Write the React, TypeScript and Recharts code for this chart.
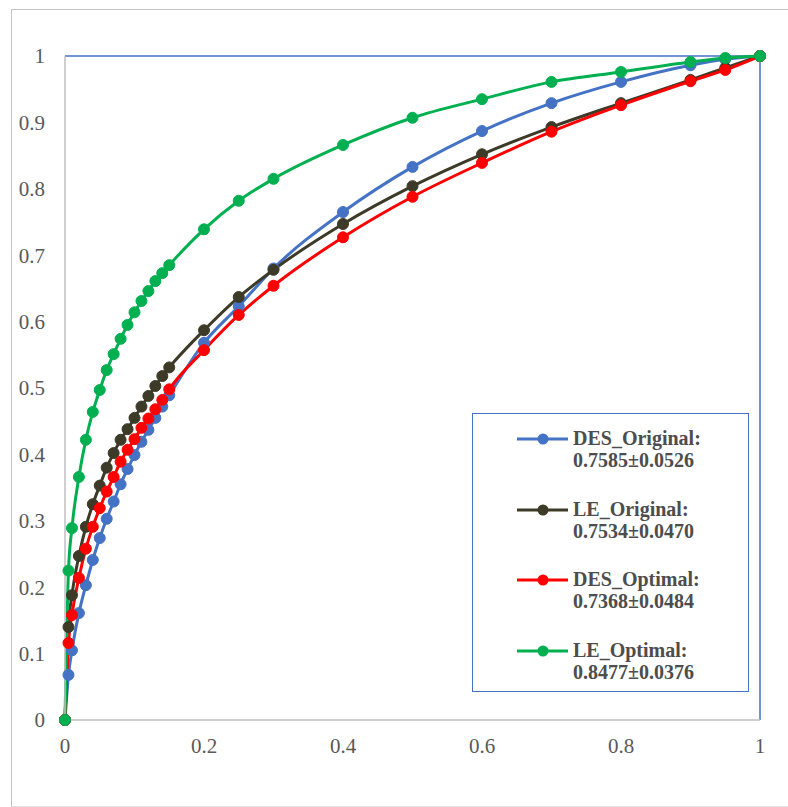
import React from 'react';
import {
  LineChart, Line, XAxis, YAxis, ReferenceLine,
} from 'recharts';

const fpr = [0, 0.005, 0.01, 0.02, 0.03, 0.04, 0.05, 0.06, 0.07, 0.08, 0.09, 0.1, 0.11, 0.12, 0.13, 0.14, 0.15, 0.2, 0.25, 0.3, 0.4, 0.5, 0.6, 0.7, 0.8, 0.9, 0.95, 1];

const desOriginal = [0, 0.068, 0.105, 0.161, 0.203, 0.241, 0.274, 0.303, 0.329, 0.355, 0.378, 0.399, 0.419, 0.437, 0.455, 0.472, 0.489, 0.568, 0.623, 0.68, 0.765, 0.833, 0.887, 0.929, 0.961, 0.986, 0.995, 1];
const leOriginal = [0, 0.14, 0.188, 0.247, 0.291, 0.325, 0.353, 0.38, 0.402, 0.422, 0.438, 0.455, 0.472, 0.488, 0.503, 0.518, 0.531, 0.587, 0.637, 0.678, 0.747, 0.804, 0.852, 0.893, 0.929, 0.964, 0.982, 1];
const desOptimal = [0, 0.116, 0.158, 0.214, 0.258, 0.291, 0.319, 0.344, 0.366, 0.389, 0.407, 0.423, 0.44, 0.454, 0.468, 0.482, 0.498, 0.557, 0.61, 0.654, 0.727, 0.788, 0.839, 0.886, 0.926, 0.962, 0.979, 1];
const leOptimal = [0, 0.225, 0.289, 0.366, 0.422, 0.464, 0.497, 0.527, 0.551, 0.574, 0.595, 0.614, 0.631, 0.646, 0.661, 0.673, 0.685, 0.739, 0.782, 0.815, 0.866, 0.907, 0.935, 0.961, 0.976, 0.991, 0.997, 1];

const ticks = [0, 0.1, 0.2, 0.3, 0.4, 0.5, 0.6, 0.7, 0.8, 0.9, 1];
const xTicks = [0, 0.2, 0.4, 0.6, 0.8, 1];

const series = [
  { key: 'desOriginal', name: 'DES_Original:', auc: '0.7585±0.0526', color: '#4472C4' },
  { key: 'leOriginal', name: 'LE_Original:', auc: '0.7534±0.0470', color: '#3D3A28' },
  { key: 'desOptimal', name: 'DES_Optimal:', auc: '0.7368±0.0484', color: '#FF0000' },
  { key: 'leOptimal', name: 'LE_Optimal:', auc: '0.8477±0.0376', color: '#00B050' },
];

const data = fpr.map((x, i) => ({
  x,
  desOriginal: desOriginal[i],
  leOriginal: leOriginal[i],
  desOptimal: desOptimal[i],
  leOptimal: leOptimal[i],
}));

const font = '"Liberation Serif", "Times New Roman", serif';
const tickStyle = { fill: '#595959', fontSize: 21, fontFamily: font };

// legend drawn as a plain box over the plot, like the Excel text frame
const LegendBox = () => (
  <div
    style={{
      position: 'absolute',
      left: 472,
      top: 413,
      width: 277,
      height: 279,
      border: '1.5px solid #4472C4',
      boxSizing: 'border-box',
      background: '#fff',
      fontFamily: font,
      fontWeight: 'bold',
      fontSize: 20,
      color: '#4d4d4d',
      paddingTop: 13,
    }}
  >
    {series.map((s) => (
      <div key={s.key} style={{ display: 'flex', height: 70.5 }}>
        <svg width={100} height={24} style={{ flexShrink: 0 }}>
          <line x1={44} y1={12} x2={95} y2={12} stroke={s.color} strokeWidth={3} />
          <circle cx={70} cy={12} r={5.5} fill={s.color} />
        </svg>
        <div style={{ lineHeight: '22px' }}>
          <div>{s.name}</div>
          <div>{s.auc}</div>
        </div>
      </div>
    ))}
  </div>
);

export default function App() {
  return (
    <div style={{ position: 'absolute', left: 0, top: 0, width: 788, height: 807, background: '#fff', overflow: 'hidden' }}>
      <div
        style={{
          position: 'absolute',
          left: 11,
          top: 9,
          width: 790,
          height: 796,
          borderLeft: '1.5px solid #c4c4c4',
          borderTop: '1.5px solid #c4c4c4',
          borderBottom: '1px solid #e2e2e2',
        }}
      />
      <LineChart
        width={788}
        height={807}
        data={data}
        margin={{ top: 56, right: 28, left: 0, bottom: 0 }}
        style={{ position: 'absolute', left: 0, top: 0 }}
      >
        <XAxis
          dataKey="x"
          type="number"
          domain={[0, 1]}
          ticks={xTicks}
          height={87}
          tickLine={false}
          tickMargin={12}
          stroke="#bfbfbf"
          strokeWidth={1.5}
          tick={tickStyle}
        />
        <YAxis
          type="number"
          domain={[0, 1]}
          ticks={ticks}
          width={65}
          tickLine={false}
          tickMargin={14}
          stroke="#bfbfbf"
          strokeWidth={1.5}
          tick={tickStyle}
        />
        <ReferenceLine y={1} stroke="#4472C4" strokeWidth={1.5} />
        <ReferenceLine x={1} stroke="#4472C4" strokeWidth={1.5} />
        {series.map((s) => (
          <Line
            key={s.key}
            type="monotone"
            dataKey={s.key}
            name={s.name}
            stroke={s.color}
            strokeWidth={3}
            dot={{ r: 5.5, fill: s.color, stroke: s.color, strokeWidth: 1 }}
            activeDot={false}
            isAnimationActive={false}
          />
        ))}
      </LineChart>
      <LegendBox />
    </div>
  );
}
